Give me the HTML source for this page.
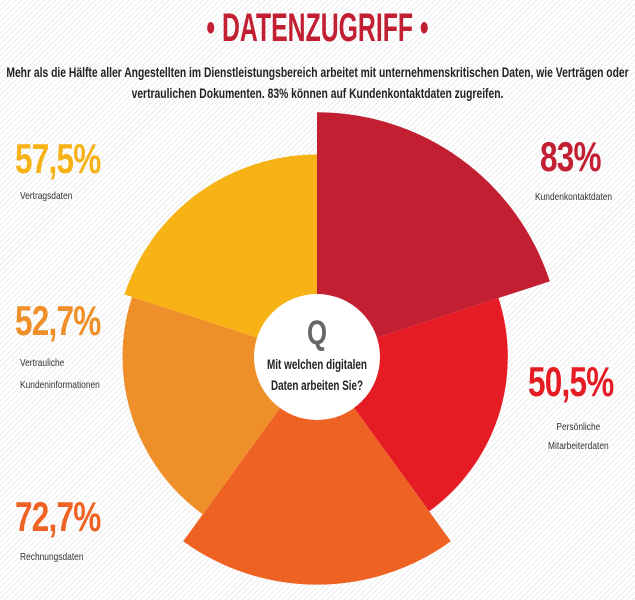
<!DOCTYPE html>
<html><head><meta charset="utf-8">
<style>
html,body{margin:0;padding:0}
body{width:635px;height:600px;position:relative;overflow:hidden;background:#fff;
background-image:repeating-linear-gradient(135deg,#fff 0,#fff 3px,#ececec 3px,#ececec 4px);
font-family:"Liberation Sans Narrow","Liberation Sans",sans-serif}
.t{position:absolute;white-space:nowrap;font-weight:bold}
.big{font-size:42px;letter-spacing:-1px;transform:scaleX(.75);transform-origin:left top}
.sm{font-size:10.5px;color:#333;font-weight:normal;transform:scaleX(.8);transform-origin:left top}
</style></head><body>
<div class="t" style="left:0;width:635px;text-align:center;top:6px;font-size:40px;color:#c21f32;transform:scaleX(.62);transform-origin:center top">• DATENZUGRIFF •</div>
<div class="t" style="left:-300px;width:1235px;text-align:center;top:62px;font-size:13.5px;line-height:21px;color:#222;transform:scaleX(.765);transform-origin:center top">Mehr als die Hälfte aller Angestellten im Dienstleistungsbereich arbeitet mit unternehmenskritischen Daten, wie Verträgen oder<br>vertraulichen Dokumenten. 83% können auf Kundenkontaktdaten zugreifen.</div>

<svg id="chart" width="635" height="600" style="position:absolute;left:0;top:0"></svg>

<div class="t big" style="left:15px;top:135px;color:#f7b215">57,5%</div>
<div class="t sm" style="left:20px;top:190px">Vertragsdaten</div>
<div class="t big" style="left:540px;top:133px;color:#c21f32">83%</div>
<div class="t sm" style="left:535px;top:191px">Kundenkontaktdaten</div>
<div class="t big" style="left:15px;top:297px;color:#ef8f2a">52,7%</div>
<div class="t sm" style="left:20px;top:352px;line-height:22px">Vertrauliche<br>Kundeninformationen</div>
<div class="t big" style="left:528px;top:358px;color:#e61c24">50,5%</div>
<div class="t sm" style="left:548px;top:418px;line-height:19px;text-align:center">Persönliche<br>Mitarbeiterdaten</div>
<div class="t big" style="left:15px;top:493px;color:#ee6323">72,7%</div>
<div class="t sm" style="left:20px;top:551px">Rechnungsdaten</div>

<script>
const categories=["Kundenkontaktdaten","Persönliche Mitarbeiterdaten","Rechnungsdaten","Vertrauliche Kundeninformationen","Vertragsdaten"];
const values=[83,50.5,72.7,52.7,57.5];
const colors=["#c21f32","#e61c24","#ee6323","#ef8f2a","#f7b215"];
const cx=317,cy=357;
function rScale(v){return 107+1.66*v;}
function pt(r,a){const t=a*Math.PI/180;return [cx+r*Math.sin(t),cy-r*Math.cos(t)];}
const svg=document.getElementById('chart');
const ns="http://www.w3.org/2000/svg";
const step=360/values.length;
values.forEach((v,i)=>{
  const r=rScale(v),a0=i*step,a1=(i+1)*step;
  const p0=pt(r,a0),p1=pt(r,a1);
  const p=document.createElementNS(ns,'path');
  p.setAttribute('d',`M${cx},${cy}L${p0[0]},${p0[1]}A${r},${r} 0 0 1 ${p1[0]},${p1[1]}Z`);
  p.setAttribute('fill',colors[i]);
  
  
  svg.appendChild(p);
});
const c=document.createElementNS(ns,'circle');
c.setAttribute('cx',cx);c.setAttribute('cy',cy);c.setAttribute('r',63);c.setAttribute('fill','#fff');


svg.appendChild(c);
function txt(s,y,size,fill,name,len){const t=document.createElementNS(ns,'text');
t.setAttribute('x',cx);t.setAttribute('y',y);t.setAttribute('text-anchor','middle');
t.setAttribute('font-size',size);t.setAttribute('font-weight','bold');t.setAttribute('fill',fill);
t.setAttribute('font-family','"Liberation Sans Narrow","Liberation Sans",sans-serif');
if(len){t.setAttribute('textLength',len);t.setAttribute('lengthAdjust','spacingAndGlyphs');}
t.textContent=s;


svg.appendChild(t);}
txt('Q',344,34,'#666','center-q',20);
txt('Mit welchen digitalen',369,14,'#222','center-question-line1',100);
txt('Daten arbeiten Sie?',390,14,'#222','center-question-line2',92);
</script>
</body></html>
